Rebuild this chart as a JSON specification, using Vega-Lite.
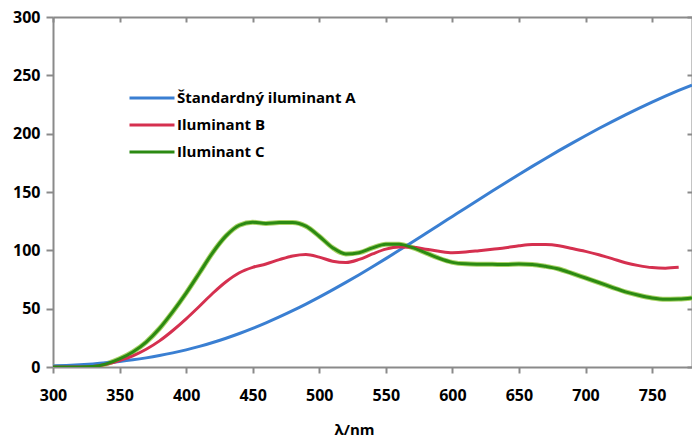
{
  "$schema": "https://vega.github.io/schema/vega-lite/v6.json",
  "width": 639,
  "height": 350,
  "autosize": {"type": "none"},
  "padding": {"left": 53, "top": 17, "right": 0, "bottom": 72},
  "background": "white",
  "config": {"view": {"stroke": null}, "font": "Open Sans"},
  "data": {"values": [
    {"l":300,"Štandardný iluminant A":0.93,"Iluminant B":0,"Iluminant C":0},
    {"l":310,"Štandardný iluminant A":1.36,"Iluminant B":0,"Iluminant C":0},
    {"l":320,"Štandardný iluminant A":1.93,"Iluminant B":0.02,"Iluminant C":0.01},
    {"l":330,"Štandardný iluminant A":2.66,"Iluminant B":0.5,"Iluminant C":0.4},
    {"l":340,"Štandardný iluminant A":3.59,"Iluminant B":2.4,"Iluminant C":2.7},
    {"l":350,"Štandardný iluminant A":4.74,"Iluminant B":5.6,"Iluminant C":7.0},
    {"l":360,"Štandardný iluminant A":6.14,"Iluminant B":9.6,"Iluminant C":12.9},
    {"l":370,"Štandardný iluminant A":7.82,"Iluminant B":15.2,"Iluminant C":21.4},
    {"l":380,"Štandardný iluminant A":9.80,"Iluminant B":22.4,"Iluminant C":33.0},
    {"l":390,"Štandardný iluminant A":12.09,"Iluminant B":31.3,"Iluminant C":47.4},
    {"l":400,"Štandardný iluminant A":14.71,"Iluminant B":41.3,"Iluminant C":63.3},
    {"l":410,"Štandardný iluminant A":17.68,"Iluminant B":52.1,"Iluminant C":80.6},
    {"l":420,"Štandardný iluminant A":20.99,"Iluminant B":63.2,"Iluminant C":98.1},
    {"l":430,"Štandardný iluminant A":24.67,"Iluminant B":73.1,"Iluminant C":112.4},
    {"l":440,"Štandardný iluminant A":28.70,"Iluminant B":80.8,"Iluminant C":121.5},
    {"l":450,"Štandardný iluminant A":33.09,"Iluminant B":85.4,"Iluminant C":124.0},
    {"l":460,"Štandardný iluminant A":37.81,"Iluminant B":88.3,"Iluminant C":123.1},
    {"l":470,"Štandardný iluminant A":42.87,"Iluminant B":92.0,"Iluminant C":123.8},
    {"l":480,"Štandardný iluminant A":48.24,"Iluminant B":95.2,"Iluminant C":123.9},
    {"l":490,"Štandardný iluminant A":53.91,"Iluminant B":96.5,"Iluminant C":120.7},
    {"l":500,"Štandardný iluminant A":59.86,"Iluminant B":94.2,"Iluminant C":112.1},
    {"l":510,"Štandardný iluminant A":66.06,"Iluminant B":90.7,"Iluminant C":102.3},
    {"l":520,"Štandardný iluminant A":72.50,"Iluminant B":89.5,"Iluminant C":96.9},
    {"l":530,"Štandardný iluminant A":79.13,"Iluminant B":92.2,"Iluminant C":98.0},
    {"l":540,"Štandardný iluminant A":85.95,"Iluminant B":96.9,"Iluminant C":102.1},
    {"l":550,"Štandardný iluminant A":92.91,"Iluminant B":101.0,"Iluminant C":105.2},
    {"l":560,"Štandardný iluminant A":100.0,"Iluminant B":102.8,"Iluminant C":105.3},
    {"l":570,"Štandardný iluminant A":107.18,"Iluminant B":102.6,"Iluminant C":102.3},
    {"l":580,"Štandardný iluminant A":114.44,"Iluminant B":101.0,"Iluminant C":97.8},
    {"l":590,"Štandardný iluminant A":121.73,"Iluminant B":99.2,"Iluminant C":93.2},
    {"l":600,"Štandardný iluminant A":129.04,"Iluminant B":98.0,"Iluminant C":89.7},
    {"l":610,"Štandardný iluminant A":136.35,"Iluminant B":98.5,"Iluminant C":88.4},
    {"l":620,"Štandardný iluminant A":143.62,"Iluminant B":99.7,"Iluminant C":88.1},
    {"l":630,"Štandardný iluminant A":150.84,"Iluminant B":101.0,"Iluminant C":88.0},
    {"l":640,"Štandardný iluminant A":157.98,"Iluminant B":102.2,"Iluminant C":87.8},
    {"l":650,"Štandardný iluminant A":165.03,"Iluminant B":103.9,"Iluminant C":88.2},
    {"l":660,"Štandardný iluminant A":171.96,"Iluminant B":105.0,"Iluminant C":87.9},
    {"l":670,"Štandardný iluminant A":178.77,"Iluminant B":104.9,"Iluminant C":86.3},
    {"l":680,"Štandardný iluminant A":185.43,"Iluminant B":103.9,"Iluminant C":84.0},
    {"l":690,"Štandardný iluminant A":191.93,"Iluminant B":101.6,"Iluminant C":80.2},
    {"l":700,"Štandardný iluminant A":198.26,"Iluminant B":99.1,"Iluminant C":76.3},
    {"l":710,"Štandardný iluminant A":204.41,"Iluminant B":96.2,"Iluminant C":72.4},
    {"l":720,"Štandardný iluminant A":210.36,"Iluminant B":92.9,"Iluminant C":68.3},
    {"l":730,"Štandardný iluminant A":216.12,"Iluminant B":89.4,"Iluminant C":64.4},
    {"l":740,"Štandardný iluminant A":221.67,"Iluminant B":86.9,"Iluminant C":61.5},
    {"l":750,"Štandardný iluminant A":227.00,"Iluminant B":85.2,"Iluminant C":59.2},
    {"l":760,"Štandardný iluminant A":232.12,"Iluminant B":84.7,"Iluminant C":58.1},
    {"l":770,"Štandardný iluminant A":237.01,"Iluminant B":85.4,"Iluminant C":58.2},
    {"l":780,"Štandardný iluminant A":241.68,"Iluminant B":null,"Iluminant C":59.1}
  ]},
  "transform": [
    {"fold": ["Štandardný iluminant A", "Iluminant B", "Iluminant C"], "as": ["s", "v"]},
    {"filter": "datum.v != null"}
  ],
  "layer": [
    {
      "transform": [{"filter": "datum.s == 'Iluminant C'"}],
      "mark": {"type": "line", "interpolate": "monotone", "strokeWidth": 5, "color": "#a8d266", "clip": true},
      "encoding": {
        "x": {
          "field": "l", "type": "quantitative", "scale": {"domain": [300, 780], "nice": false},
          "axis": {
            "orient": "top", "values": [300, 350, 400, 450, 500, 550, 600, 650, 700, 750],
            "grid": false, "labels": false, "title": null,
            "domainColor": "#8a8a8a", "domainWidth": 2,
            "tickColor": "#8a8a8a", "tickWidth": 2, "tickSize": -5
          }
        },
        "y": {
          "field": "v", "type": "quantitative", "scale": {"domain": [0, 300]},
          "axis": {
            "orient": "right", "values": [0, 50, 100, 150, 200, 250, 300],
            "grid": false, "labels": false, "title": null,
            "domainColor": "#8a8a8a", "domainWidth": 2,
            "tickColor": "#8a8a8a", "tickWidth": 2, "tickSize": -5
          }
        }
      }
    },
    {
      "mark": {"type": "line", "interpolate": "monotone", "strokeWidth": 3, "clip": true},
      "encoding": {
        "x": {
          "field": "l", "type": "quantitative",
          "scale": {"domain": [300, 780], "nice": false},
          "axis": {
            "orient": "bottom",
            "values": [300, 350, 400, 450, 500, 550, 600, 650, 700, 750],
            "grid": false, "domainColor": "#8a8a8a", "domainWidth": 2,
            "tickColor": "#8a8a8a", "tickWidth": 2, "tickSize": 6,
            "labelFont": "Open Sans", "labelFontWeight": "bold", "labelFontSize": 16, "labelColor": "#000",
            "labelPadding": 14, "labelFlush": false,
            "title": "λ/nm", "titleFont": "Open Sans", "titleFontWeight": "bold", "titleFontSize": 15, "titleColor": "#000",
            "titleX": 301, "titleY": 67, "titleBaseline": "alphabetic", "titleAnchor": "middle", "titleAlign": "center"
          }
        },
        "y": {
          "field": "v", "type": "quantitative",
          "scale": {"domain": [0, 300]},
          "axis": {
            "orient": "left",
            "values": [0, 50, 100, 150, 200, 250, 300],
            "grid": false, "domainColor": "#8a8a8a", "domainWidth": 2,
            "tickColor": "#8a8a8a", "tickWidth": 2, "tickSize": 7,
            "labelFont": "Open Sans", "labelFontWeight": "bold", "labelFontSize": 16, "labelColor": "#000",
            "labelPadding": 6, "labelFlush": false, "title": null
          }
        },
        "color": {
          "field": "s", "type": "nominal",
          "scale": {"domain": ["Štandardný iluminant A", "Iluminant B", "Iluminant C"], "range": ["#3a7fd2", "#d5304f", "#2b8a12"]},
          "legend": {
            "title": null, "orient": "none", "legendX": 75, "legendY": 71,
            "symbolType": "stroke", "symbolSize": 2025, "symbolStrokeWidth": 3,
            "clipHeight": 20,
            "labelFont": "Open Sans", "labelFontWeight": "bold", "labelFontSize": 15, "labelColor": "#000",
            "rowPadding": 7, "labelOffset": 1, "labelLimit": 400
          }
        }
      }
    }
  ],
  "resolve": {"axis": {"x": "independent", "y": "independent"}}
}
